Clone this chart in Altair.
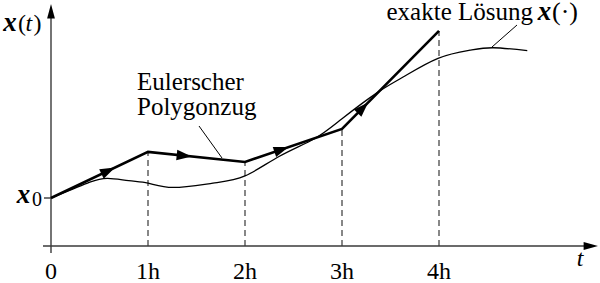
import math
import altair as alt
import pandas as pd

# ---------------- data ----------------
steps = [0, 1, 2, 3, 4]                       # t = k*h
step_labels = ["0", "1h", "2h", "3h", "4h"]
euler_y = [1.0, 1.96, 1.75, 2.44, 4.48]        # Euler polygon values (x0 = 1)
exact_t = [0, 0.23, 0.40, 0.58, 0.80, 1.0, 1.26, 1.67, 2.0, 2.36, 2.72,
           3.0, 3.36, 3.63, 3.99, 4.32, 4.56, 4.91]
exact_y = [1.0, 1.19, 1.33, 1.41, 1.36, 1.31, 1.22, 1.31, 1.46, 1.875, 2.24,
           2.65, 3.19, 3.52, 3.91, 4.08, 4.13, 4.07]
arrow_frac = [0.66, 0.45, 0.45, 0.27]         # where the arrowheads sit on each step

# ---------------- layout (pixel frame of the 600x283 page) ----------------
W, H = 600, 283
PX_T, PX_Y = 97.0, 48.0
X0_PX, Y0_PX = 51.0, 246.0
FONT = "Liberation Serif"


def T(px):
    return (px - X0_PX) / PX_T


def Y(py):
    return (Y0_PX - py) / PX_Y


xs = alt.Scale(domain=[T(0), T(W)], nice=False, zero=False)
ys = alt.Scale(domain=[Y(H), Y(0)], nice=False, zero=False)


def X_(f="t"):
    return alt.X(f"{f}:Q", scale=xs, axis=None)


def Y_(f="y"):
    return alt.Y(f"{f}:Q", scale=ys, axis=None)


def segs(rows, **mk):
    df = pd.DataFrame(rows, columns=["t", "y", "t2", "y2"])
    return alt.Chart(df).mark_rule(**mk).encode(
        x=X_(), y=Y_(), x2="t2:Q", y2="y2:Q")


def texts(rows, font=FONT, **mk):
    df = pd.DataFrame(rows, columns=["t", "y", "label"])
    base = dict(font=font, color="black", baseline="alphabetic")
    base.update(mk)
    return alt.Chart(df).mark_text(**base).encode(x=X_(), y=Y_(), text="label:N")


AXIS_COLOR = "#3a3a3a"
ARROW = "M0,0L-2,-0.7L-2,0.7Z"
AX_ARROW = "M0,0L-2.4,-0.65L-2.4,0.65Z"

axes = segs([[T(43), 0, T(590), 0], [0, Y(253), 0, Y(12)]],
            color=AXIS_COLOR, strokeWidth=1.4)
x0_tick = segs([[T(44), euler_y[0], 0, euler_y[0]]], color=AXIS_COLOR, strokeWidth=1.4)
ax_heads = alt.Chart(pd.DataFrame({
    "t": [T(598), 0], "y": [0, Y(4)], "a": [0, 270]})).mark_point(
    shape=AX_ARROW, filled=True, color="black", opacity=1, size=144, strokeWidth=0
).encode(x=X_(), y=Y_(), angle=alt.Angle("a:Q", scale=None))

guides_df = pd.DataFrame({"t": steps[1:], "y": [0] * 4, "y2": euler_y[1:]})
guides = alt.Chart(guides_df).mark_rule(
    color="#555555", strokeWidth=1.4, strokeDash=[6, 4]
).encode(x=X_(), y=Y_(), y2="y2:Q")

exact = alt.Chart(pd.DataFrame({"t": exact_t, "y": exact_y})).mark_line(
    color="black", strokeWidth=1.3, interpolate="natural"
).encode(x=X_(), y=Y_())

poly = alt.Chart(pd.DataFrame({"t": steps, "y": euler_y})).mark_line(
    color="black", strokeWidth=2.6, strokeJoin="miter"
).encode(x=X_(), y=Y_())

ar_rows = []
for k, f in enumerate(arrow_frac):
    t = steps[k] + f * (steps[k + 1] - steps[k])
    yv = euler_y[k] + f * (euler_y[k + 1] - euler_y[k])
    dx = (steps[k + 1] - steps[k]) * PX_T
    dy = (euler_y[k + 1] - euler_y[k]) * PX_Y
    ang = (-math.degrees(math.atan2(dy, dx))) % 360
    ar_rows.append({"t": t, "y": yv, "a": ang})
arrows = alt.Chart(pd.DataFrame(ar_rows)).mark_point(
    shape=ARROW, filled=True, color="black", opacity=1, size=225, strokeWidth=0
).encode(x=X_(), y=Y_(), angle=alt.Angle("a:Q", scale=None))

leaders = segs([[T(199), Y(126), T(222), Y(158)],
                [T(517), Y(25), T(492), Y(47)]], color="black", strokeWidth=1)

tick_txt = texts([[s, Y(279), lab] for s, lab in zip(steps, step_labels)],
                 align="center", fontSize=24)
euler_txt = texts([[T(137), Y(90), "Eulerscher"],
                   [T(137), Y(115), "Polygonzug"]], align="left", fontSize=25)
dot_txt = texts([[T(552), Y(20), "(·)"]], align="left", fontSize=26)
paren = texts([[T(18), Y(31), "("], [T(33.5), Y(31), ")"]], align="left", fontSize=24)
normal_right = texts([[T(533), Y(20), "exakte Lösung"]], align="right", fontSize=25)
sub0 = texts([[T(32), Y(206), "0"]], align="left", fontSize=20)
bold_x = texts([[T(10), Y(31), "x"], [T(23.5), Y(203), "x"], [T(544.5), Y(20), "x"]],
               align="center", fontSize=27, fontStyle="italic", fontWeight="bold")
ital = texts([[T(25.5), Y(31), "t"]], align="left", fontSize=24, fontStyle="italic")
ital_t = texts([[T(580), Y(266), "t"]], align="center", fontSize=24, fontStyle="italic")

chart = alt.layer(
    guides, axes, x0_tick, ax_heads, exact, poly, arrows, leaders,
    tick_txt, euler_txt, dot_txt, paren, normal_right, sub0, bold_x, ital, ital_t
).properties(
    width=W, height=H, padding=0, autosize=alt.AutoSizeParams(type="none"),
    background="white"
).configure_view(strokeWidth=0)

chart.save("out.html", embed_options={"renderer": "svg", "actions": False})
